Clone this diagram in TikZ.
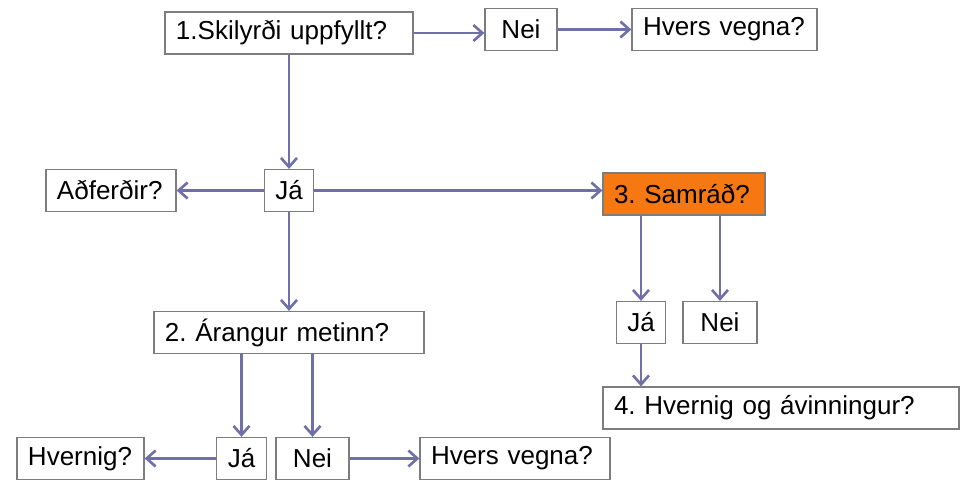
\documentclass[tikz,border=0pt]{standalone}
\usepackage{fontspec}
\setmainfont{Liberation Sans}
\usepackage{tikz}
\usetikzlibrary{arrows.meta}
\frenchspacing

\definecolor{boxgray}{RGB}{125,125,125}
\definecolor{arrowblue}{RGB}{112,112,168}
\definecolor{samorange}{RGB}{246,120,18}

\begin{document}
\begin{tikzpicture}[x = 0.2mm, y = -0.2mm,
  box/.style = {draw = boxgray, line width = 0.7pt, fill = white, inner xsep = 2.2mm, inner ysep = 0pt, minimum height = 8.4mm, align = left, font = \fontsize{14.8}{17}\selectfont},
  arr/.style = {line width = 1.5pt, arrowblue, -{Straight Barb[length = 1.8mm, width = 3.2mm]}}]
\useasboundingbox (0,0) rectangle (965,481);

% top row
\node[box, text width = 45.2mm] (s1) at (289,33) {1.Skilyrði uppfyllt?};
\node[box, minimum width = 14.4mm] (nei1) at (521,29.5) {Nei};
\node[box, text width = 32.6mm] (hv1) at (724.5,29.5) {Hvers vegna?};

% middle row
\node[box, text width = 21.6mm] (adf) at (111,190.5) {Aðferðir?};
\node[box, minimum width = 9.8mm] (ja1) at (289,190.5) {Já};
\node[box, text width = 28mm, fill = samorange] (s3) at (684,194) {3. Samráð?};

\node[box, text width = 49.6mm] (s2) at (289,332.5) {2. Árangur metinn?};
\node[box, minimum width = 9.8mm] (ja3) at (641,322.5) {Já};
\node[box, minimum width = 14.8mm] (nei3) at (720,322.5) {Nei};
\node[box, text width = 66.8mm] (s4) at (781,408) {4. Hvernig og ávinningur?};

% bottom row
\node[box, text width = 21mm] (hvernig) at (80.5,458.5) {Hvernig?};
\node[box, minimum width = 9.8mm] (ja2) at (241.5,458.5) {Já};
\node[box, minimum width = 14.6mm] (nei2) at (312.5,458.5) {Nei};
\node[box, text width = 33.6mm] (hv2) at (515,458.5) {Hvers vegna?};

\draw[arr] (s1.east) -- (s1.east -| nei1.west);
\draw[arr] (nei1.east) -- (hv1.west);
\draw[arr] (s1.south) -- (ja1.north);
\draw[arr] (ja1.west) -- (adf.east);
\draw[arr] (ja1.east) -- (ja1.east -| s3.west);
\draw[arr] (ja1.south) -- (s2.north);

\draw[arr] (s3.south -| ja3) -- (ja3.north);
\draw[arr] (s3.south -| nei3) -- (nei3.north);
\draw[arr] (ja3.south) -- (ja3.south |- s4.north);

\draw[arr] (s2.south -| ja2) -- (ja2.north);
\draw[arr] (s2.south -| nei2) -- (nei2.north);
\draw[arr] (ja2.west) -- (hvernig.east);
\draw[arr] (nei2.east) -- (hv2.west);
\end{tikzpicture}
\end{document}
